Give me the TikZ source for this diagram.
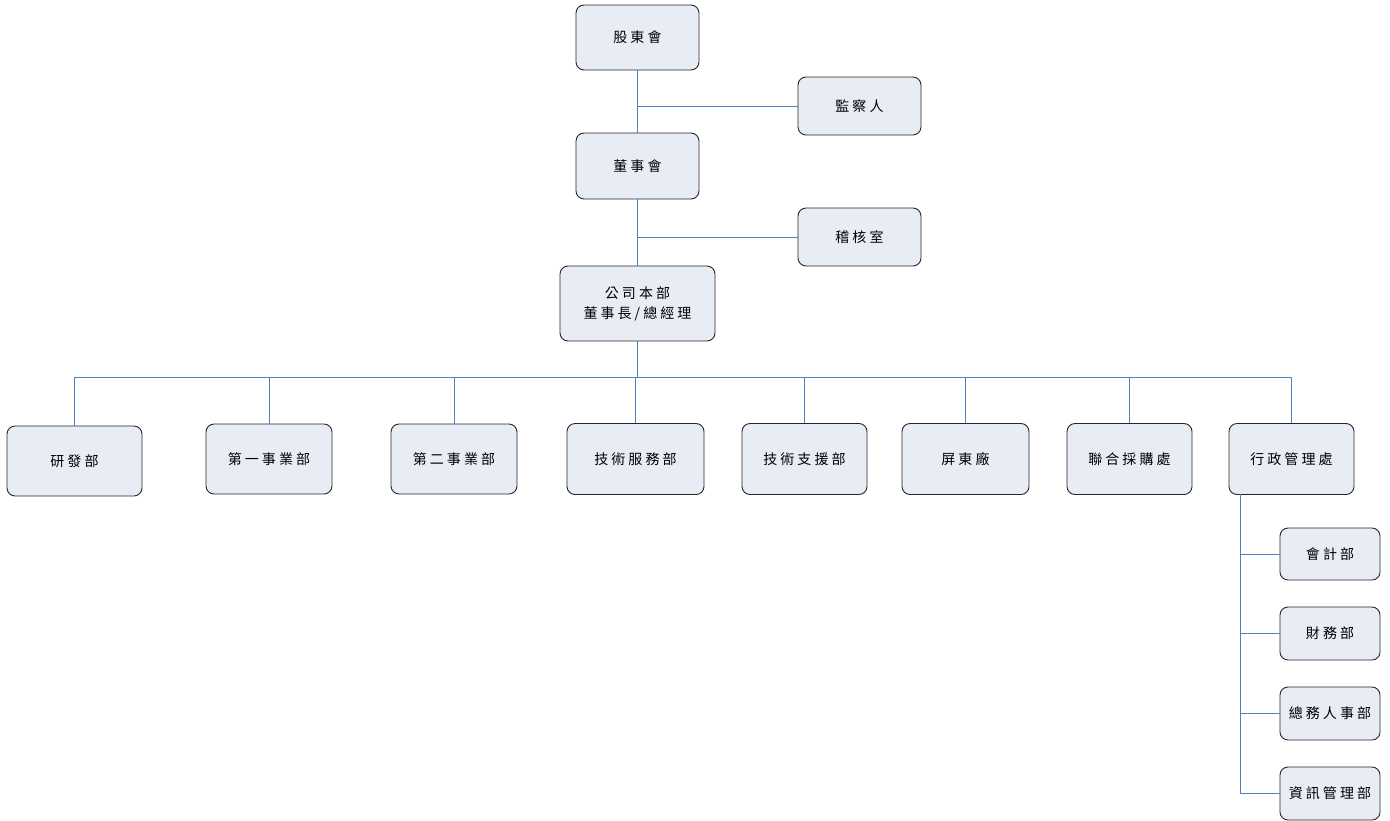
\documentclass[tikz,border=0pt]{standalone}
\usepackage{fontspec}
\setmainfont[LetterSpace=22]{Noto Sans CJK TC}
\usetikzlibrary{positioning}
\definecolor{boxfill}{HTML}{E8ECF5}
\definecolor{linkblue}{HTML}{4F81BD}
\newcommand{\orgnode}[5]{\node(#1)[unitbox,minimum width=#3,minimum height=#4] at (#2) {#5}}

\begin{document}
\begin{tikzpicture}[
        x=1pt, y=-1pt,
        every node/.style={font=\fontsize{14}{20}\selectfont},
        unitbox/.style={rectangle,inner sep=0pt,rounded corners=8pt,
                        draw=black!85,line width=0.9pt,fill=boxfill,align=center},
        link/.style={draw=linkblue,line width=0.9pt}
      ]
      \useasboundingbox (0,0) rectangle (1390,820);
      % top of the chart
      \orgnode{gdh}{637.5,37.5}{123pt}{65pt}{股東會};
      \orgnode{jcr}{859.5,106}{123pt}{58pt}{監察人};
      \orgnode{dsh}{637.5,166}{123pt}{66pt}{董事會};
      \orgnode{jhs}{859.5,237}{123pt}{58pt}{稽核室};
      \orgnode{hq}{637.5,303.5}{155pt}{75pt}{公司本部\\董事長/總經理};
      % departments
      \orgnode{yfb}{74.5,461}{135pt}{70pt}{研發部};
      \orgnode{sy1}{269,459}{126pt}{70pt}{第一事業部};
      \orgnode{sy2}{454,459}{126pt}{70pt}{第二事業部};
      \orgnode{jsfw}{635.5,459}{137pt}{71pt}{技術服務部};
      \orgnode{jszy}{804.5,459}{125pt}{71pt}{技術支援部};
      \orgnode{pdc}{965.5,459}{127pt}{71pt}{屏東廠};
      \orgnode{lhcg}{1129.5,459}{125pt}{71pt}{聯合採購處};
      \orgnode{xz}{1291.5,459}{125pt}{71pt}{行政管理處};
      % under the admin office
      \orgnode{kj}{1330,554}{100pt}{52pt}{會計部};
      \orgnode{cw}{1330,633.5}{100pt}{53pt}{財務部};
      \orgnode{zwrs}{1330,713.5}{100pt}{53pt}{總務人事部};
      \orgnode{zxgl}{1330,793.5}{100pt}{53pt}{資訊管理部};

      \coordinate (bus) at (0,377);
      \coordinate (spine) at (1240,494);

      \draw[link] (gdh.south) -- (dsh.north);
      \draw[link] (jcr.west) -- (jcr.west -| gdh.south);
      \draw[link] (dsh.south) -- (hq.north);
      \draw[link] (jhs.west) -- (jhs.west -| dsh.south);
      \draw[link] (hq.south) -- (hq.south |- bus);
      \draw[link] (yfb.north) -- (yfb.north |- bus) -- (xz.north |- bus) -- (xz.north);
      \foreach \d in {sy1,sy2,jsfw,jszy,pdc,lhcg}
        \draw[link] (\d.north) -- (\d.north |- bus);
      \draw[link] (spine) -- (spine |- zxgl.west);
      \foreach \s in {kj,cw,zwrs,zxgl}
        \draw[link] (\s.west) -- (\s.west -| spine);
    \end{tikzpicture}
\end{document}
